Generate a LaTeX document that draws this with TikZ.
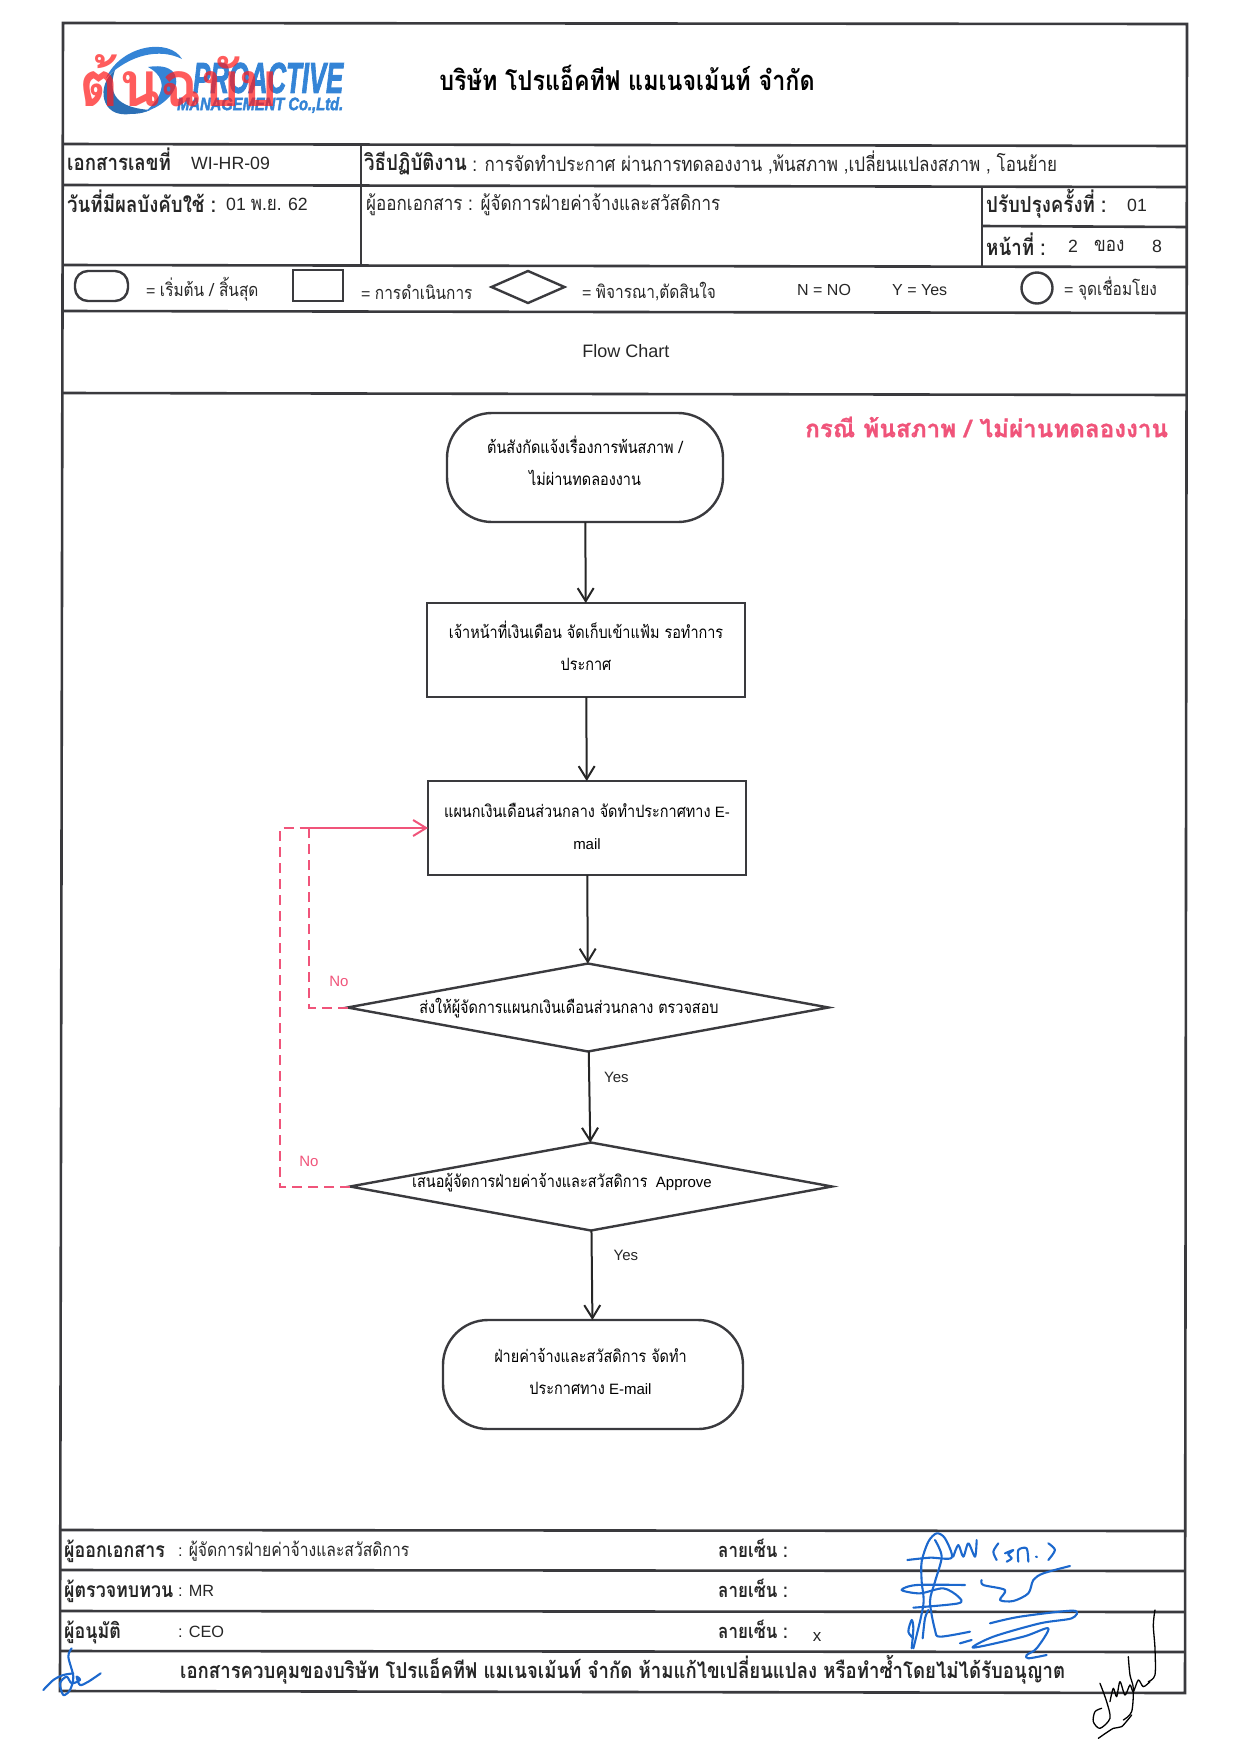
\documentclass[tikz,border=0pt]{standalone}
\usepackage{fontspec}
\setmainfont{Liberation Sans}
\newfontfamily\thaifont[Script=Thai,FakeStretch=0.85,Scale=1.133]{Loma}
\newfontfamily\casefont[Script=Thai,BoldFeatures={FakeBold=1}]{Loma}
\newfontfamily\brandfont[BoldItalicFeatures={FakeBold=2.5}]{Liberation Sans}
\newcommand{\tht}[1]{{\thaifont #1}}
\newcommand{\lift}[1]{\rule[-#1]{0pt}{#1}}
\newcommand{\dectext}[3]{\smash{\makebox[0pt]{\hspace*{#1}\raisebox{#2}{#3}}}}
\usetikzlibrary{
  arrows.meta,
  shapes.geometric,
  positioning
}
\definecolor{inkgray}{RGB}{58,58,62}
\definecolor{pinkline}{RGB}{240,84,122}
\definecolor{penblue}{RGB}{28,104,205}
\definecolor{logoblue}{RGB}{52,132,214}
\tikzset{
  >={Straight Barb[length=13pt,width=16pt,line width=2pt]},
  rule/.style = {draw=inkgray, line width=2.6pt},
  term/.style = {draw=inkgray, line width=2.4pt, rectangle, rounded corners=45pt, align=center,
    outer sep=0pt, inner sep=0pt, font=\fontsize{15}{32}\selectfont},
  task/.style = {draw=inkgray, line width=2.4pt, rectangle, align=center,
    outer sep=0pt, inner sep=0pt, font=\fontsize{15}{32}\selectfont},
  decide/.style = {draw=inkgray, line width=2.4pt, diamond, aspect=5.47, align=center,
    outer sep=0pt, inner sep=0pt, font=\fontsize{15}{18}\selectfont},
  flow/.style = {->, black!85, line width=2pt},
  nopath/.style = {pinkline, line width=2pt, dash pattern=on 10pt off 6pt},
  lbl/.style = {anchor=west, inner sep=0pt, font=\fontsize{17.7}{18}\selectfont, text=black!85},
  keylbl/.style = {lbl, font=\fontsize{16}{18}\selectfont},
  signlbl/.style = {lbl, font=\fontsize{16.3}{18}\selectfont},
  blbl/.style = {lbl, font=\fontsize{19.4}{20}\selectfont\bfseries},
  signhead/.style = {lbl, font=\fontsize{18.5}{20}\selectfont\bfseries},
  small/.style = {inner sep=0pt, font=\fontsize{15}{18}\selectfont, text=black!85},
  pen/.style = {draw=penblue, line width=2.1pt, line cap=round, line join=round},
  blackpen/.style = {draw=black, line width=1.3pt, line cap=round, line join=round},
}

\begin{document}
\begin{tikzpicture}[x=1pt, y=-1pt]
  \useasboundingbox (0,0) rectangle (1240,1754);

  % frame and table rules
  \draw[rule] (63,23) -- (1187,24) -- (1185,1693) -- (60,1691) -- cycle;
  \draw[rule] (63,144) -- (1187,146);
  \draw[rule] (63,185) -- (1187,187);
  \draw[rule] (981,226) -- (1187,227);
  \draw[rule] (63,265) -- (1187,267);
  \draw[rule] (63,311) -- (1187,313);
  \draw[rule] (62,393) -- (1187,395);
  \draw[rule] (60,1530) -- (1185,1531);
  \draw[rule] (60,1570) -- (1185,1571);
  \draw[rule] (60,1611) -- (1185,1612);
  \draw[rule] (60,1651) -- (1185,1652);
  \draw[rule] (361,145) -- (361,265);
  \draw[rule] (982,186) -- (982,266);

  % logo
  \fill[logoblue] (106,78) .. controls (122,44) and (170,38) .. (182,59)
    .. controls (160,48) and (130,54) .. (106,78) -- cycle;
  \fill[logoblue!85!black] (115,70) .. controls (96,85) and (100,118) .. (130,114)
    .. controls (140,114) and (146,112) .. (150,110)
    .. controls (125,108) and (105,100) .. (115,70) -- cycle;
  \fill[logoblue] (148,67) .. controls (178,62) and (182,82) .. (170,96)
    .. controls (162,105) and (155,108) .. (145,112)
    .. controls (165,95) and (168,78) .. (148,67) -- cycle;
  \node[inner sep=0pt, text=logoblue, anchor=west] (brand) at (193,78)
    {\resizebox{150pt}{30pt}{\brandfont\bfseries\itshape PROACTIVE}};
  \node[inner sep=0pt, text=logoblue, anchor=west] (brandsub) at (177,105)
    {\resizebox{166pt}{13pt}{\brandfont\bfseries\itshape MANAGEMENT Co.,Ltd.}};
  \node[inner sep=0pt, text=red!85!pink, opacity=.72] (stamp) at (179,81)
    {\resizebox{198pt}{52pt}{\thaifont\bfseries ต้นฉบับ}};

  \node[inner sep=0pt, font=\fontsize{24.2}{26}\selectfont\bfseries] (company) at (627,78)
    {\tht{บริษัท โปรแอ็คทีฟ แมเนจเม้นท์ จำกัด}};

  % header rows
  \node[blbl] (docno) at (67,159) {\tht{เอกสารเลขที่}};
  \node[lbl] (docnoval) at (191,163) {WI-HR-09};
  \node[blbl] (procname) at (364,163) {\tht{วิธีปฏิบัติงาน}};
  \node[lbl, right=5pt of procname] (procval)
    {\tht{: การจัดทำประกาศ ผ่านการทดลองงาน ,พ้นสภาพ ,เปลี่ยนแปลงสภาพ , โอนย้าย}};
  \node[blbl] (effdate) at (67,201) {\tht{วันที่มีผลบังคับใช้ :}};
  \node[lbl] (effval) at (226,204) {01 \tht{พ.ย.} 62};
  \node[lbl] (issuer) at (366,205) {\tht{ผู้ออกเอกสาร :  ผู้จัดการฝ่ายค่าจ้างและสวัสดิการ}};
  \node[blbl] (rev) at (986,204) {\tht{ปรับปรุงครั้งที่ :}};
  \node[lbl] (revval) at (1127,205) {01};
  \node[blbl] (pagelbl) at (986,244) {\tht{หน้าที่ :}};
  \node[lbl] (pagea) at (1068,246) {2};
  \node[lbl] (pageof) at (1094,246) {\tht{ของ}};
  \node[lbl] (pageb) at (1152,246) {8};

  % legend
  \node[term, rounded corners=13pt, minimum width=53pt, minimum height=30pt] (keyterm) at (101.5,286) {};
  \node[keylbl] (keytermtxt) at (146,289) {= \tht{เริ่มต้น / สิ้นสุด}};
  \node[task, minimum width=50pt, minimum height=31pt] (keytask) at (318,285.5) {};
  \node[keylbl] (keytasktxt) at (361,292) {= \tht{การดำเนินการ}};
  \node[decide, aspect=2.3, minimum width=73pt, minimum height=32pt] (keydec) at (528,287) {};
  \node[keylbl] (keydectxt) at (582,292) {= \tht{พิจารณา,ตัดสินใจ}};
  \node[keylbl] (keyno) at (797,290) {N = NO};
  \node[keylbl] (keyyes) at (892,290) {Y = Yes};
  \node[draw=inkgray, line width=2.4pt, circle, minimum size=31pt, inner sep=0pt] (keylink) at (1037,288) {};
  \node[keylbl] (keylinktxt) at (1064,289) {= \tht{จุดเชื่อมโยง}};

  \node[small, font=\fontsize{18}{20}\selectfont] (title) at (626,351) {Flow Chart};
  \node[anchor=west, inner sep=0pt, text=pinkline, font=\fontsize{24.2}{26}\selectfont\bfseries] (caseline) at (805,427)
    {\casefont\bfseries กรณี พ้นสภาพ / ไม่ผ่านทดลองงาน};

  % flow chart
  \node[term, minimum width=276pt, minimum height=109pt] (start) at (585,467.5)
    {\tht{ต้นสังกัดแจ้งเรื่องการพ้นสภาพ /}\\\tht{ไม่ผ่านทดลองงาน}\lift{14pt}};
  \node[task, minimum width=318pt, minimum height=94pt, below=81pt of start, xshift=1pt] (file)
    {\tht{เจ้าหน้าที่เงินเดือน จัดเก็บเข้าแฟ้ม รอทำการ}\\\tht{ประกาศ}\lift{9pt}};
  \node[task, minimum width=318pt, minimum height=94pt, below=84pt of file, xshift=1pt] (mail)
    {\tht{แผนกเงินเดือนส่วนกลาง จัดทำประกาศทาง} E-\\mail\lift{4pt}};
  \node[decide, minimum width=481pt, minimum height=88pt, below=88.5pt of mail, xshift=1pt] (check)
    {\dectext{-38pt}{-6pt}{\tht{ส่งให้ผู้จัดการแผนกเงินเดือนส่วนกลาง ตรวจสอบ}}};
  \node[decide, minimum width=482pt, minimum height=88pt, below=91pt of check, xshift=3pt] (approve)
    {\dectext{-58pt}{-1pt}{\tht{เสนอผู้จัดการฝ่ายค่าจ้างและสวัสดิการ}~~Approve}};
  \node[term, minimum width=300pt, minimum height=109pt, below=89.5pt of approve, xshift=2pt] (finish)
    {\tht{ฝ่ายค่าจ้างและสวัสดิการ จัดทำ}\hspace*{5pt}\\\tht{ประกาศทาง} E-mail\lift{6pt}\hspace*{5pt}};

  \draw[flow] (start) -- (file);
  \draw[flow] (file) -- (mail);
  \draw[flow] (mail) -- (check);
  \draw[flow] (check) -- node[small, right=14pt, pos=.29] (yesa) {Yes} (approve);
  \draw[flow] (approve) -- node[small, right=21pt, pos=.28] (yesb) {Yes} (finish);

  \coordinate (solidstart) at (303,828);
  \coordinate (innerup) at (309,828);
  \coordinate (outerup) at (280,828);
  \draw[->, pinkline, line width=2pt] (solidstart) -- (mail.west |- solidstart);
  \draw[nopath] (check.west) -| (innerup);
  \draw[nopath] (approve.west) -| (outerup) -- (solidstart);
  \node[small, text=pinkline] (noa) at (339,981) {No};
  \node[small, text=pinkline] (nob) at (309,1161) {No};

  % sign-off rows
  \node[signhead] (signa) at (64,1551) {\tht{ผู้ออกเอกสาร}};
  \node[signlbl] (signaval) at (178,1551) {: \tht{ผู้จัดการฝ่ายค่าจ้างและสวัสดิการ}};
  \node[signhead] (signb) at (64,1591) {\tht{ผู้ตรวจทบทวน}};
  \node[signlbl] (signbval) at (178,1591) {: MR};
  \node[signhead] (signc) at (64,1632) {\tht{ผู้อนุมัติ}};
  \node[signlbl] (signcval) at (178,1632) {: CEO};
  \node[signhead, font=\fontsize{17.6}{20}\selectfont\bfseries] (sigla) at (718,1548) {\tht{ลายเซ็น :}};
  \node[signhead, font=\fontsize{17.6}{20}\selectfont\bfseries] (siglb) at (718,1588) {\tht{ลายเซ็น :}};
  \node[signhead, font=\fontsize{17.6}{20}\selectfont\bfseries] (siglc) at (718,1629) {\tht{ลายเซ็น :}};
  \node[small, font=\fontsize{17}{18}\selectfont] (cross) at (817,1637) {x};
  \node[inner sep=0pt, anchor=west, font=\fontsize{19.3}{20}\selectfont\bfseries, text=black!85] (notice) at (180,1670)
    {\tht{เอกสารควบคุมของบริษัท โปรแอ็คทีฟ แมเนจเม้นท์ จำกัด ห้ามแก้ไขเปลี่ยนแปลง หรือทำซ้ำโดยไม่ได้รับอนุญาต}};

  % signatures
  \begin{scope}[shift={(880,1515)}, x=.3333pt, y=-.3333pt]
    \draw[pen] plot[smooth] coordinates {(82,135) (150,128) (215,128) (195,70) (170,55) (145,80) (125,140) (125,200) (130,270) (100,400)};
    \draw[pen] plot[smooth] coordinates {(165,75) (185,125) (165,200) (150,260) (165,345) (180,365) (270,350)};
    \draw[pen] plot[smooth] coordinates {(255,210) (110,210) (65,225) (120,235) (190,220) (235,245) (235,265) (100,278)};
    \draw[pen] plot[smooth] coordinates {(220,125) (235,90) (250,125) (265,85) (285,125) (290,75)};
    \draw[pen] plot[smooth] coordinates {(355,85) (340,110) (350,135)};
    \draw[pen] plot[smooth] coordinates {(375,115) (400,105) (385,118) (395,130) (380,140)};
    \draw[pen] plot[smooth] coordinates {(415,140) (415,105) (440,100) (445,140)};
    \draw[pen] (468,125) -- (471,126);
    \draw[pen] plot[smooth] coordinates {(505,85) (525,105) (505,135)};
    \draw[pen] plot[smooth] coordinates {(305,195) (310,210) (375,225) (360,255) (400,258) (445,235) (460,195) (490,175) (570,153)};
    \draw[pen] plot[smooth] coordinates {(330,325) (420,305) (580,287) (575,310) (480,325) (340,365) (280,398) (430,365) (505,340) (470,400) (440,420) (445,430) (500,420)};
    \draw[pen] (240,385) -- (275,375);
    \draw[pen] plot[smooth] coordinates {(95,400) (100,340) (95,315) (85,350) (100,370)};
    \draw[pen] plot[smooth] coordinates {(128,370) (135,310) (145,285)};
    \draw[blackpen] plot[smooth] coordinates {(825,285) (820,330) (825,400) (825,480) (805,500)};
    \draw[blackpen] plot[smooth] coordinates {(745,425) (750,480) (760,520) (755,590) (730,615)};
    \draw[blackpen] plot[smooth] coordinates {(690,560) (700,520) (710,545) (720,500) (735,540) (750,510) (760,530) (775,495) (790,515) (810,500)};
    \draw[blackpen] plot[smooth] coordinates {(660,505) (680,560) (690,610) (660,640) (640,620) (645,590) (665,580)};
    \draw[blackpen] plot[smooth] coordinates {(655,670) (700,640) (725,635) (755,600)};
  \end{scope}
  \begin{scope}[shift={(30,1640)}, x=.3333pt, y=-.3333pt]
    \draw[pen] plot[smooth] coordinates {(40,150) (70,120) (100,105) (130,100)};
    \draw[pen] plot[smooth] coordinates {(125,25) (115,50) (130,110) (120,150) (100,165) (90,130) (110,110) (125,130) (150,120) (140,110) (150,135) (175,125) (212,100)};
  \end{scope}
\end{tikzpicture}
\end{document}
